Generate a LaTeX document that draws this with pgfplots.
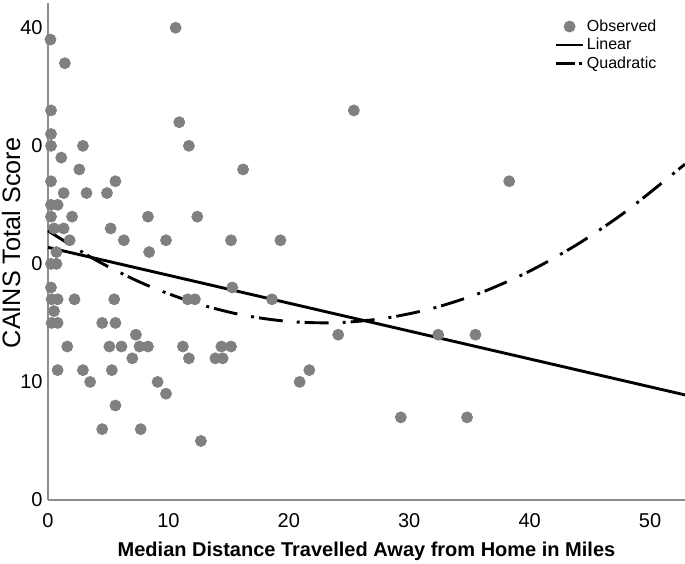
\documentclass[border=0pt]{standalone}
\usepackage{fontspec}
\setmainfont{Liberation Sans}
\usepackage{pgfplots}
\pgfplotsset{compat=1.18}
\definecolor{ptgray}{RGB}{128,128,128}
\definecolor{axgray}{RGB}{140,140,140}
\pgfplotsset{
  legline/.style={legend image code/.code={\draw[##1, line width=1.4pt] (0pt,0pt) -- (13.5pt,0pt);}},
  legquad/.style={legend image code/.code={\draw[##1, line width=1.4pt, dash pattern=on 9.5pt off 2pt on 1.5pt off 2pt] (0pt,0pt) -- (13.5pt,0pt);}},
  legmark/.style={legend image code/.code={\draw[mark repeat=2,mark phase=2,##1] plot coordinates {(0pt,0pt) (7pt,0pt) (14pt,0pt)};}},
}
\begin{document}
\begin{tikzpicture}
\begin{axis}[
  name=ax,
  scale only axis, width=318.5pt, height=248.5pt,
  xmin=0, xmax=52.9, ymin=0, ymax=42.1,
  axis x line*=bottom, axis y line*=left,
  axis line style={axgray, line width=0.8pt},
  xtick={0,10,20,30,40,50}, ytick={0,10,20,30,40},
  major tick length=0pt,
  tick label style={font=\fontsize{10}{12}\selectfont},
  /pgf/number format/assume math mode=true,
  yticklabel style={inner xsep=2.5pt},
  xticklabel style={yshift=-3pt},
  xlabel={Median Distance Travelled Away from Home in Miles},
  xlabel style={at={(axis description cs:0.5,0)}, anchor=base, yshift=-28.5pt, font=\fontsize{10}{12}\selectfont\bfseries},
  clip=false,
  legend cell align=left,
  legend style={at={(axis description cs:0.794,0.972)}, anchor=north west, draw=none, fill=none,
    inner sep=0pt, row sep=0pt,
    nodes={inner ysep=0.5pt, inner xsep=1.5pt, text height=6.5pt, text depth=1.75pt},
    font=\fontsize{8}{9}\selectfont},
]
\addplot[only marks, mark=*, mark size=2.75pt, mark options={draw=ptgray, fill=ptgray}, legmark]
coordinates {
(0.2,39) (1.4,37) (10.6,40) (0.25,33) (10.9,32) (0.25,31) (0.25,30) (2.9,30) (11.7,30)
(1.1,29) (2.6,28) (16.2,28) (0.25,27) (5.6,27) (1.3,26) (3.2,26) (4.9,26) (0.25,25) (0.8,25)
(0.25,24) (2.0,24) (8.3,24) (12.4,24) (0.5,23) (1.3,23) (5.2,23) (1.8,22) (6.3,22) (9.8,22)
(15.2,22) (19.3,22) (0.7,21) (8.4,21) (0.25,20) (0.7,20) (0.25,18) (15.3,18) (0.3,17) (0.8,17)
(2.2,17) (5.5,17) (11.6,17) (12.2,17) (18.6,17) (0.5,16) (0.3,15) (0.8,15) (4.5,15) (5.6,15)
(7.3,14) (24.1,14) (32.4,14) (35.5,14) (1.6,13) (5.1,13) (6.1,13) (7.6,13) (8.3,13) (11.2,13)
(14.4,13) (15.2,13) (7.0,12) (11.7,12) (13.9,12) (14.5,12) (0.8,11) (2.9,11) (5.3,11) (21.7,11)
(3.5,10) (9.1,10) (20.9,10) (9.8,9) (5.6,8) (29.3,7) (34.8,7) (4.5,6) (7.7,6) (12.7,5)
(25.4,33) (38.3,27)
};
\addlegendentry{Observed}
\addplot[black, line width=1.45pt, no marks, legline]
coordinates {(0,21.4) (52.9,8.9)};
\addlegendentry{Linear}
\addplot[black, line width=1.45pt, no marks, smooth, dash pattern=on 12pt off 7pt on 1.5pt off 2.5pt, legquad]
coordinates {(0,22.80) (4,20.31) (8,18.29) (12,16.76) (16,15.70) (20,15.12) (24,15.02) (28,15.40)
(32,16.25) (36,17.58) (40,19.39) (44,21.68) (48,24.45) (52.9,28.45)};
\addlegendentry{Quadratic}
\end{axis}
\fill[white] ([shift={(-24pt,66pt)}]ax.south west) rectangle ([shift={(-8pt,184pt)}]ax.south west);
\node[rotate=90, anchor=base, inner sep=0pt, font=\fontsize{12.6}{14}\selectfont]
  at ([shift={(-14pt,128.5pt)}]ax.south west) {CAINS Total Score};
\pgfresetboundingbox
\path[use as bounding box] ([shift={(-24pt,-32pt)}]ax.south west) rectangle ([shift={(0pt,1.5pt)}]ax.north east);
\end{tikzpicture}
\end{document}
